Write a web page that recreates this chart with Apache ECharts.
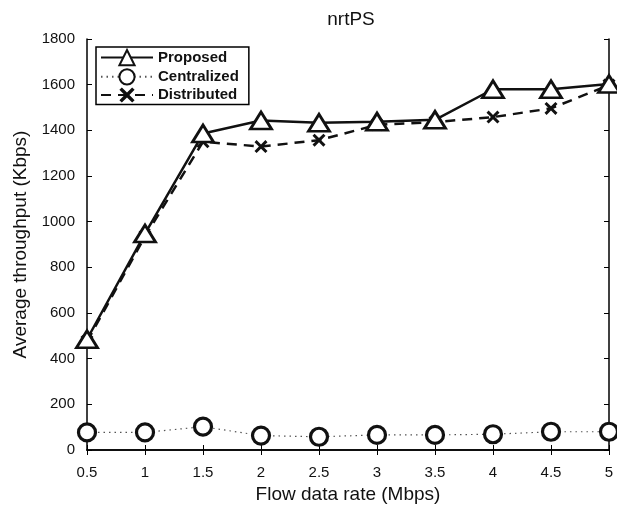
<!DOCTYPE html>
<html><head><meta charset="utf-8">
<script src="https://cdn.jsdelivr.net/npm/echarts@6/dist/echarts.min.js"></script>
<style>html,body{margin:0;padding:0;background:#fff}#c{width:617px;height:510px}</style>
</head><body><div id="c"></div>
<script>
var rates = [0.5, 1, 1.5, 2, 2.5, 3, 3.5, 4, 4.5, 5];
var proposed = [485, 948, 1386, 1443, 1433, 1438, 1446, 1580, 1580, 1603];
var centralized = [77, 77, 102, 63, 58, 66, 66, 69, 80, 80];
var distributed = [475, 935, 1350, 1329, 1357, 1424, 1436, 1458, 1496, 1598];
var yTicks = [0, 200, 400, 600, 800, 1000, 1200, 1400, 1600, 1800];

function pairs(v){ return rates.map(function(x,i){ return [x, v[i]]; }); }
var xPath = 'path://M0,1.6L1.6,0L5,3.4L8.4,0L10,1.6L6.6,5L10,8.4L8.4,10L5,6.6L1.6,10L0,8.4L3.4,5Z';
var font = 'Liberation Sans, Arial, Helvetica, sans-serif';
var chart = echarts.init(document.getElementById('c'));
var axisCommon = {
  axisLine: {show: true, lineStyle: {color: '#000', width: 1.5}},
  axisTick: {show: true, inside: true, length: 5, lineStyle: {color: '#000', width: 1}},
  splitLine: {show: false}
};
chart.setOption({
  animation: false,
  backgroundColor: '#fff',
  title: {text: 'nrtPS', left: 346, top: 5, textAlign: 'center',
    textStyle: {fontFamily: font, fontSize: 19, fontWeight: 'normal', color: '#111'}},
  grid: {left: 87, right: 8, top: 39, bottom: 60},
  legend: {
    left: 96, top: 47, orient: 'vertical', itemGap: 2, itemWidth: 52, itemHeight: 19,
    padding: [2, 10, 2, 4],
    borderColor: '#000', borderWidth: 1.5, backgroundColor: '#fff',
    textStyle: {fontFamily: font, fontSize: 15, fontWeight: 'bold', color: '#111'},
    data: ['Proposed', 'Centralized', 'Distributed']
  },
  xAxis: [
    Object.assign({type: 'value', min: 0.5, max: 5, interval: 0.5, position: 'bottom',
      name: 'Flow data rate (Mbps)', nameLocation: 'middle', nameGap: 33,
      nameTextStyle: {fontFamily: font, fontSize: 19, color: '#111'},
      axisLabel: {fontFamily: font, fontSize: 15, color: '#111', margin: 15,
        formatter: function(v){ return String(v); }}}, axisCommon),
    Object.assign({type: 'value', min: 0.5, max: 5, interval: 0.5, position: 'top',
      axisLabel: {show: false}}, axisCommon)
  ],
  yAxis: [
    Object.assign({type: 'value', min: 0, max: 1800, interval: 200, position: 'left',
      name: 'Average throughput (Kbps)', nameLocation: 'middle', nameGap: 56,
      nameTextStyle: {fontFamily: font, fontSize: 19, color: '#111'},
      axisLabel: {fontFamily: font, fontSize: 15, color: '#111', margin: 12,
        formatter: function(v){ return yTicks.indexOf(v) >= 0 ? String(v) : ''; }}}, axisCommon),
    Object.assign({type: 'value', min: 0, max: 1800, interval: 200, position: 'right',
      axisLabel: {show: false}}, axisCommon)
  ],
  series: [
    {name: 'Proposed', type: 'line', data: pairs(proposed), xAxisIndex: 0, yAxisIndex: 0,
      symbol: 'triangle', symbolSize: [21, 17], z: 4,
      lineStyle: {color: '#111', width: 2.5, type: 'solid'},
      itemStyle: {color: '#fff', borderColor: '#111', borderWidth: 2.8}},
    {name: 'Centralized', type: 'line', data: pairs(centralized), xAxisIndex: 0, yAxisIndex: 0,
      symbol: 'circle', symbolSize: 17, z: 3,
      lineStyle: {color: '#555', width: 1.2, type: [1.5, 4]},
      itemStyle: {color: '#fff', borderColor: '#111', borderWidth: 3.2}},
    {name: 'Distributed', type: 'line', data: pairs(distributed), xAxisIndex: 0, yAxisIndex: 0,
      symbol: xPath, symbolSize: 13, z: 3,
      lineStyle: {color: '#111', width: 2.5, type: [10, 7]},
      itemStyle: {color: '#111'}}
  ]
});
</script></body></html>
